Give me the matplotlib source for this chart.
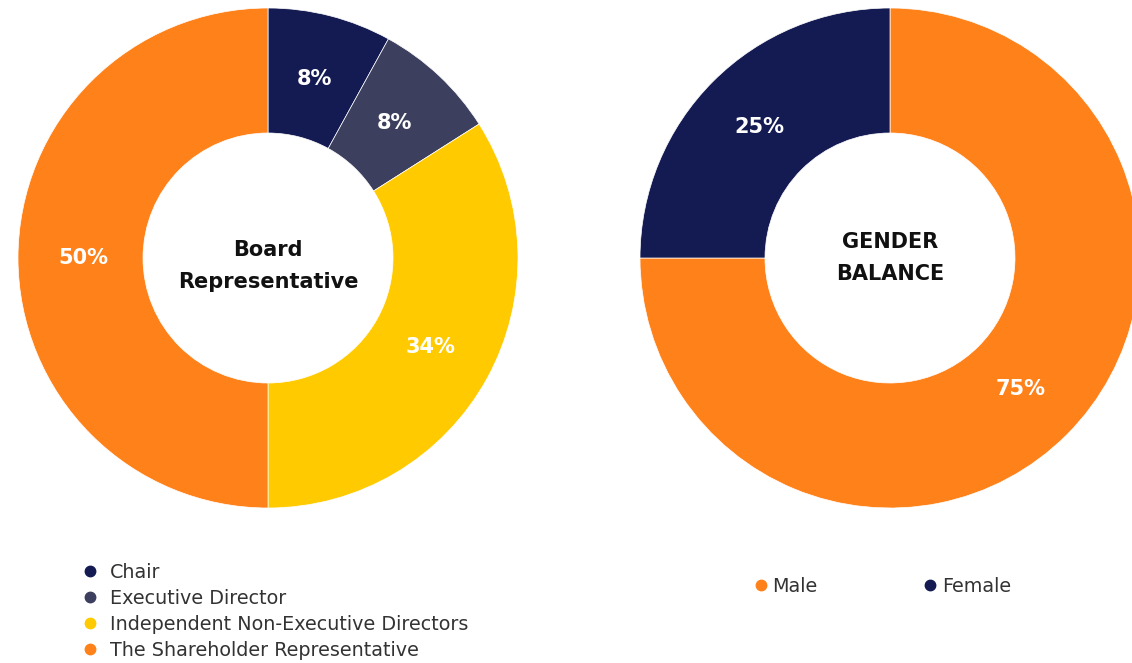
import matplotlib
matplotlib.use("Agg")
import matplotlib.pyplot as plt
from matplotlib.lines import Line2D

plt.rcParams['font.family'] = ['DejaVu Sans']

board_labels = ["Chair", "Executive Director", "Independent Non-Executive Directors",
                "The Shareholder Representative"]
board_values = [8, 8, 34, 50]
board_colors = ["#141a52", "#3c3f5e", "#ffcb00", "#ff8119"]
board_title = "Board\nRepresentative"

gender_labels = ["Male", "Female"]
gender_values = [75, 25]
gender_colors = ["#ff8119", "#141a52"]
gender_title = "GENDER\nBALANCE"

W, H = 1132, 663
fig = plt.figure(figsize=(W / 100, H / 100), dpi=100)
fig.patch.set_facecolor("white")


def donut(rect, values, colors, title, title_dy):
    ax = fig.add_axes(rect)
    ax.pie(values, colors=colors, startangle=90, counterclock=False, radius=1.0,
           autopct=lambda p: f"{p:.0f}%", pctdistance=0.74,
           wedgeprops=dict(width=0.5, edgecolor="white", linewidth=0.5),
           textprops=dict(color="white", fontsize=15, fontweight="bold"))
    ax.text(0, title_dy, title, ha="center", va="center", fontsize=15,
            fontweight="bold", color="#111111", linespacing=1.75)
    ax.set_xlim(-1, 1)
    ax.set_ylim(-1, 1)
    ax.set_aspect("equal")
    ax.axis("off")
    return ax


donut([18 / W, 155 / H, 500 / W, 500 / H], board_values, board_colors, board_title, -0.03)
donut([640 / W, 155 / H, 500 / W, 500 / H], gender_values, gender_colors, gender_title, 0.0)

h1 = [Line2D([], [], marker="o", linestyle="", markersize=7.5, markerfacecolor=c,
             markeredgecolor=c) for c in board_colors]
fig.legend(h1, board_labels, loc="upper left", bbox_to_anchor=(80 / W, 1 - 563 / H),
           frameon=False, fontsize=13.8, labelcolor="#333333", handletextpad=0.55,
           labelspacing=0.36, borderaxespad=0, borderpad=0, handlelength=1.0)

h2 = [Line2D([], [], marker="o", linestyle="", markersize=7.5, markerfacecolor=c,
             markeredgecolor=c) for c in gender_colors]
fig.legend(h2, gender_labels, loc="upper left", bbox_to_anchor=(751 / W, 1 - 577 / H),
           frameon=False, fontsize=13.8, labelcolor="#333333", ncol=2,
           handletextpad=0.1, columnspacing=5.4, borderaxespad=0, borderpad=0,
           handlelength=1.0)

fig.savefig("out.png", dpi=100, facecolor="white")
